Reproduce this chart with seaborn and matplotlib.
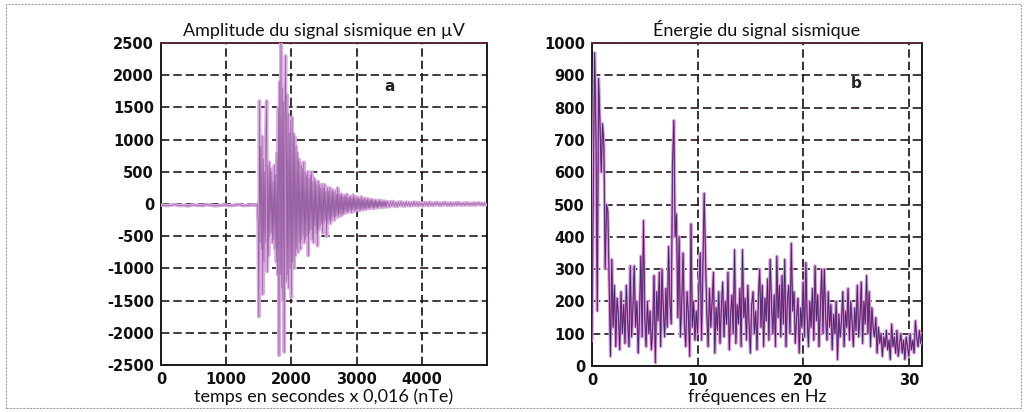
import numpy as np
import pandas as pd
import matplotlib
matplotlib.use("Agg")
import matplotlib.pyplot as plt
from matplotlib.patches import Rectangle
import seaborn as sns

# ---------------- data ----------------
# panel a : seismic amplitude (µV), sampled in nTe units
pre_t_start, pre_t_step = 0, 70
pre_amp = [-15, -25, -20, -10, -25, -20, -30, -15, -20, -25, -10,
           -20, -30, -20, -15, -25, -20, -10, -25, -20, -15, -20]

evt_t_start, evt_t_step = 1480, 10
evt_amp = [
    0, -300, -1750, 1600, -600, 900, -700, 1050, -1400, 700,
    -900, 500, -600, 1100, 1600, -1050, 600, -800, 650, -500,
    550, -450, 500, -600, 350, -550, 600, -700, 450, -900, 800, -1100,
    1500, -2350, 1900, -1100, 2500, -1300, 1800, -1500, 1600, -2300,
    1400, 2300, -1200, 1700, -1100, 1400, -1300, 1100, -1000, 1300,
    -1450, 1350, -900, 1100, -1000, 1050, -800, 900, -700, 800,
    -750, 700, -600, 650, -700, 600, -550, 550, -500, 650,
    -600, 500, -550, 450, -500, 500, -800, 400, -450, 450,
    -400, 500, -550, 350, -600, 400, -350, 350, -450, 300,
    -650, 350, -400, 300, -350, 250, -300, 300, -450, 250,
    -300, 300, -250, 200, -500, 250, -300, 200, -250, 250,
    -300, 200, -250, 220, -200, 180, -250, 200, -200, 150,
    -180, 250, -200, 160, -150, 140, -180, 150, -160, 120,
    -150, 130, -140, 120, -120, 150, -130, 100, -120, 110,
    -100, 120, -130, 100, -90, 140, -110, 90, -100, 110,
    -90, 100, -80, 90, -100, 80, -90, 110, -80, 70,
    -90, 80, -70, 90, -80, 60, -70, 80, -60, 70,
    -70, 60, -60, 70, -50, 60, -70, 50, -60, 60,
    -50, 50, -60, 40, -50, 60, -45, 50, -50, 40,
    -40, 45, -50, 40, -35, 40, -45, 35,
]

tail_t_start, tail_t_step = 3480, 20
tail_amp = [
    30, -45, 35, -30, 40, -35, 25, -40, 30, -25, 35, -30, 20, -35, 30, -25, 25, -30, 20, -25,
    30, -20, 25, -30, 20, -25, 15, -30, 25, -20, 20, -25, 30, -20, 15, -25, 20, -15, 25, -20,
    15, -25, 20, -15, 25, -20, 15, -20, 20, -25, 15, -15, 20, -20, 25, -15, 10, -20, 15, -20,
    20, -15, 15, -20, 10, -15, 20, -20, 15, -10, 20, -15, 10, -20, 15, -15,
]

# panel b : energy spectrum, frequency step 0.125 Hz from 0 to 31.25 Hz
freq_step = 0.125
energy = [
    80, 560, 970, 720, 170, 890, 760, 600, 750, 680, 300, 500, 480, 250, 30, 330,
    120, 250, 60, 210, 160, 50, 230, 100, 190, 70, 250, 140, 60, 310, 90, 180,
    310, 120, 200, 40, 160, 340, 90, 450, 150, 60, 200, 100, 170, 50, 120, 280,
    10, 230, 140, 290, 60, 300, 180, 90, 240, 120, 370, 200, 130, 620, 760, 400,
    470, 150, 400, 90, 200, 350, 130, 60, 230, 160, 30, 440, 120, 200, 80, 170,
    100, 250, 350, 80, 300, 535, 330, 160, 60, 240, 120, 200, 290, 40, 180, 110,
    230, 70, 180, 260, 90, 200, 130, 290, 50, 160, 220, 100, 360, 70, 190, 130,
    240, 60, 360, 150, 210, 80, 250, 130, 40, 190, 230, 100, 170, 50, 200, 300,
    120, 250, 60, 210, 140, 270, 80, 330, 190, 100, 220, 60, 340, 150, 250, 90,
    280, 130, 330, 60, 200, 250, 100, 380, 170, 230, 70, 150, 210, 40, 180, 120,
    260, 90, 320, 150, 60, 200, 120, 240, 80, 310, 140, 220, 60, 180, 300, 100,
    300, 150, 80, 230, 120, 190, 50, 160, 100, 200, 20, 160, 90, 140, 230, 60,
    170, 120, 240, 80, 200, 140, 60, 180, 110, 250, 90, 150, 260, 70, 200, 130,
    280, 100, 230, 60, 180, 120, 90, 150, 40, 120, 70, 100, 30, 90, 60, 110,
    50, 80, 20, 130, 60, 90, 40, 110, 30, 70, 100, 40, 80, 20, 90, 60,
    30, 100, 50, 80, 40, 140, 90, 60, 110, 70, 100,
]

left_yticks = [2500, 2000, 1500, 1000, 500, 0, -500, -1000, -1500, -2000, -2500]
left_xticks = [0, 1000, 2000, 3000, 4000]
right_yticks = [0, 100, 200, 300, 400, 500, 600, 700, 800, 900, 1000]
right_xticks = [0, 10, 20, 30]

title_a = "Amplitude du signal sismique en µV"
title_b = "Énergie du signal sismique"
xlabel_a = "temps en secondes x 0,016 (nTe)"
xlabel_b = "fréquences en Hz"

# ---------------- build tables ----------------
t = np.concatenate([
    pre_t_start + pre_t_step * np.arange(len(pre_amp)),
    evt_t_start + evt_t_step * np.arange(len(evt_amp)),
    tail_t_start + tail_t_step * np.arange(len(tail_amp)),
])
amp = np.array(pre_amp + evt_amp + tail_amp, dtype=float)
df_a = pd.DataFrame({"t": t, "amp": amp})

f = freq_step * np.arange(len(energy))
df_b = pd.DataFrame({"f": f, "e": np.array(energy, dtype=float)})

# ---------------- style ----------------
sns.set_style("white")
plt.rcParams["font.family"] = ["DejaVu Sans"]

fig = plt.figure(figsize=(10.28, 4.12), dpi=100)
W, H = 1028, 412

def ax_rect(x0, y0, x1, y1):
    return [x0 / W, 1 - y1 / H, (x1 - x0) / W, (y1 - y0) / H]

ax1 = fig.add_axes(ax_rect(161, 43, 487, 365))
ax2 = fig.add_axes(ax_rect(592, 43, 922, 366))

layers_a = [("#d9acdf", 2.6, 1.0, 3), ("#b65aaa", 0.5, 0.55, 4), ("#3b2566", 0.35, 0.4, 5)]
layers_b = [("#d6a6de", 2.3, 1.0, 3), ("#b24a9e", 0.9, 1.0, 4), ("#3b2566", 0.5, 1.0, 5)]
grid_h = "#2a1420"
grid_v = "#111111"
dash = (0, (5, 2.4))

for ax, df, xc, yc, layers in [(ax1, df_a, "t", "amp", layers_a), (ax2, df_b, "f", "e", layers_b)]:
    for col, lw, al, z in layers:
        sns.lineplot(data=df, x=xc, y=yc, ax=ax, estimator=None, sort=False,
                     color=col, linewidth=lw, alpha=al, zorder=z)

def style(ax, xticks, yticks, xlim, ylim, title, xlabel):
    ax.set_xlim(*xlim)
    ax.set_ylim(*ylim)
    ax.set_xticks(xticks)
    ax.set_yticks(yticks)
    ax.set_xticklabels([str(v) for v in xticks])
    ax.set_yticklabels([str(v) for v in yticks])
    ax.tick_params(axis="both", length=0, pad=5, labelsize=10.5)
    for lab in ax.get_xticklabels() + ax.get_yticklabels():
        lab.set_fontweight("bold")
        lab.set_color("#111111")
    ax.grid(axis="y", color=grid_h, linestyle=dash, linewidth=1.2, zorder=1)
    ax.grid(axis="x", color=grid_v, linestyle=dash, linewidth=1.2, zorder=1)
    ax.set_axisbelow(True)
    for s in ax.spines.values():
        s.set_visible(True)
        s.set_color("#1a1a1a")
        s.set_linewidth(1.4)
    ax.spines["top"].set_color("#5a2438")
    ax.set_title(title, fontsize=13, family=["Lato", "DejaVu Sans"], pad=5, color="#111111")
    ax.set_xlabel(xlabel, fontsize=13, family=["Lato", "DejaVu Sans"], labelpad=1, color="#111111")
    ax.set_ylabel("")

style(ax1, left_xticks, left_yticks, (0, 5000), (-2500, 2500), title_a, xlabel_a)
style(ax2, right_xticks, right_yticks, (0, 31.25), (0, 1000), title_b, xlabel_b)

ax1.text(3510, 1830, "a", fontsize=11, fontweight="bold", ha="center", va="center", color="#222222", zorder=6)
ax2.text(25.0, 876, "b", fontsize=11, fontweight="bold", ha="center", va="center", color="#222222", zorder=6)

# outer frame of the figure
fig.patches.append(Rectangle((6 / W, 4 / H), (1021 - 6) / W, (408 - 4) / H,
                             transform=fig.transFigure, fill=False,
                             edgecolor="#a0a0a0", linewidth=0.8, linestyle=(0, (2, 1))))

fig.savefig("out.png", dpi=100)
